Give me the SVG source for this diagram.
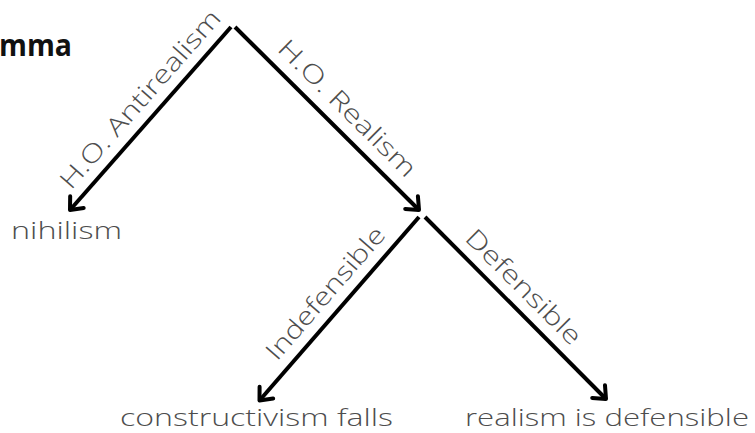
<svg xmlns="http://www.w3.org/2000/svg" width="755" height="433" viewBox="0 0 755 433">
  <style>
    .edge { stroke: #000; stroke-width: 4; fill: none; stroke-linecap: butt; }
    .node { font-family: "Open Sans", "Liberation Sans", sans-serif; font-weight: 300; font-size: 24px; fill: #4d4d4d; }
    .lbl { font-family: "Open Sans", "Liberation Sans", sans-serif; font-weight: 300; font-size: 25px; fill: #4d4d4d; text-anchor: middle; }
    .title { font-family: "Open Sans", "Liberation Sans", sans-serif; font-weight: 700; font-size: 30px; fill: #111; }
  </style>
  <defs>
    <marker id="arrow" markerUnits="userSpaceOnUse" viewBox="-16 -13 20 26" refX="0" refY="0" markerWidth="20" markerHeight="26" orient="auto" overflow="visible">
      <path d="M-10.5,-9 L0,0 L-10.5,9" fill="none" stroke="#000" stroke-width="4" stroke-linecap="round" stroke-linejoin="round"/>
    </marker>
  </defs>
  <rect width="755" height="433" fill="#fff"/>

  <g id="title">
    <text class="title" x="-1" y="56" textLength="73" lengthAdjust="spacingAndGlyphs">mma</text>
  </g>

  <g id="connectors">
    <line class="edge" x1="231" y1="27" x2="70" y2="210" marker-end="url(#arrow)"/>
    <line class="edge" x1="235" y1="27" x2="419" y2="210" marker-end="url(#arrow)"/>
    <line class="edge" x1="419" y1="217" x2="259.5" y2="400.5" marker-end="url(#arrow)"/>
    <line class="edge" x1="425" y1="217" x2="606" y2="399" marker-end="url(#arrow)"/>
    <text class="lbl" transform="translate(146.6,104.8) rotate(-48.6)" textLength="229" lengthAdjust="spacingAndGlyphs">H.O. Antirealism</text>
    <text class="lbl" transform="translate(341.3,114.4) rotate(44.8)" textLength="183" lengthAdjust="spacingAndGlyphs">H.O. Realism</text>
    <text class="lbl" transform="translate(331.9,298.7) rotate(-49)" textLength="167" lengthAdjust="spacingAndGlyphs">Indefensible</text>
    <text class="lbl" transform="translate(517.6,293.1) rotate(44.8)" textLength="152" lengthAdjust="spacingAndGlyphs">Defensible</text>
  </g>

  <g id="nihilism">
    <text class="node" x="11" y="239" textLength="111" lengthAdjust="spacingAndGlyphs">nihilism</text>
  </g>
  <g id="constructivism-falls">
    <text class="node" x="120" y="426" textLength="273" lengthAdjust="spacingAndGlyphs">constructivism falls</text>
  </g>
  <g id="realism-is-defensible">
    <text class="node" x="465" y="426" textLength="284" lengthAdjust="spacingAndGlyphs">realism is defensible</text>
  </g>
</svg>
